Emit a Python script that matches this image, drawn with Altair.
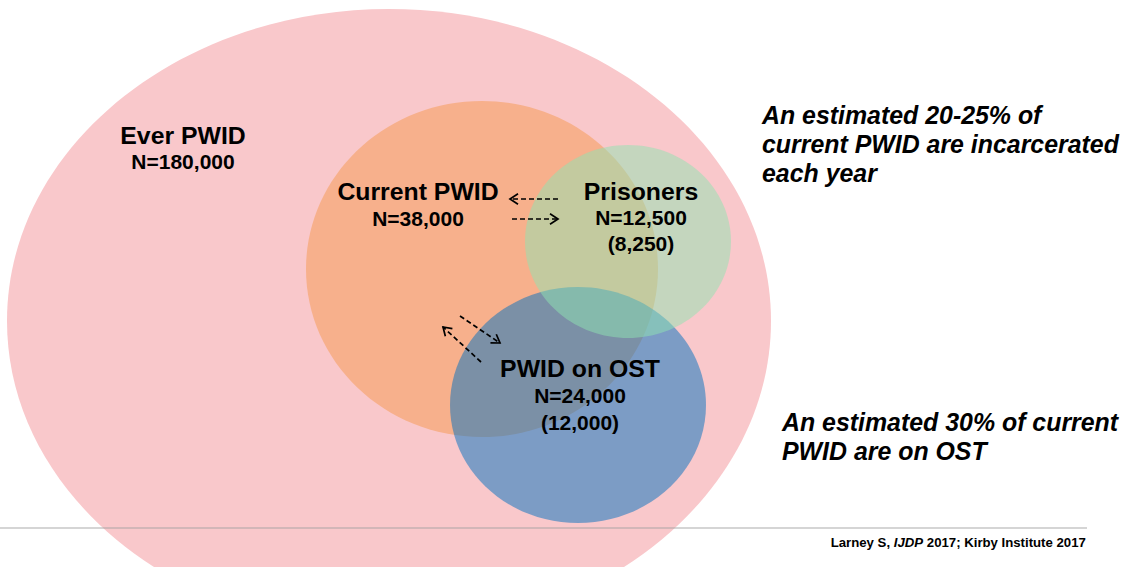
import altair as alt
import numpy as np
import pandas as pd

W, H = 1133, 567
FONT = "Liberation Sans"

# ---------------- data ----------------
groups = ["Ever PWID", "Current PWID", "PWID on OST", "Prisoners"]
group_n = [180000, 38000, 24000, 12500]
group_sub = [None, None, 12000, 8250]

notes_1 = ["An estimated 20-25% of", "current PWID are incarcerated", "each year"]
notes_2 = ["An estimated 30% of current", "PWID are on OST"]
footer_parts = ["Larney S,", "IJDP", "2017; Kirby Institute 2017"]

# ---------------- layout (diagram geometry, pixel-like units) ----------------
ell_cx = [389, 482, 578, 628]
ell_cy = [321, 269, 405, 241.5]
ell_rx = [382, 176, 128, 103]
ell_ry = [312, 168, 118, 96.5]
ell_fill = ["#F9C8CB", "#F7B08C", "#0070C0", "#8FE4B1"]
ell_alpha = [1.0, 1.0, 0.5, 0.5]

title_x = [183, 418, 580, 641]
title_y = [137, 193, 370, 193]
line_gap = [26, 27, 27, 26]

arrow_x = [558, 512, 460, 481]
arrow_y = [199, 219, 316, 362]
arrow_x2 = [510, 558, 500, 443]
arrow_y2 = [199, 219, 343, 327]

FOOT_SIZE = 13.2
foot_x = [830.7, 893.8, 926.8]


def ellipse_path(rx, ry):
    q = ry / rx
    k = 0.5523
    return (f"M 1 0 C 1 {k*q:.4f} {k:.4f} {q:.4f} 0 {q:.4f} "
            f"C {-k:.4f} {q:.4f} -1 {k*q:.4f} -1 0 "
            f"C -1 {-k*q:.4f} {-k:.4f} {-q:.4f} 0 {-q:.4f} "
            f"C {k:.4f} {-q:.4f} 1 {-k*q:.4f} 1 0 Z")


ell = pd.DataFrame({
    "name": groups, "cx": ell_cx, "cy": ell_cy,
    "shape": [ellipse_path(a, b) for a, b in zip(ell_rx, ell_ry)],
    "size": [(2 * a) ** 2 for a in ell_rx],
    "fill": ell_fill, "alpha": ell_alpha,
})

xs = alt.Scale(domain=[0, W], nice=False, zero=False)
ys = alt.Scale(domain=[0, H], nice=False, zero=False, reverse=True)

def X(f):
    return alt.X(f, scale=xs, axis=None)

def Y(f):
    return alt.Y(f, scale=ys, axis=None)

ellipses = alt.Chart(ell).mark_point(filled=True, opacity=1, strokeWidth=0).encode(
    x=X("cx:Q"), y=Y("cy:Q"),
    shape=alt.Shape("shape:N", scale=None),
    size=alt.Size("size:Q", scale=None),
    fill=alt.Fill("fill:N", scale=None),
    fillOpacity=alt.FillOpacity("alpha:Q", scale=None),
    order=alt.Order("order:Q"),
).transform_window(order="row_number()")

# labels
rows = []
for i, g in enumerate(groups):
    rows.append({"x": title_x[i], "y": title_y[i], "t": g, "kind": "title"})
    rows.append({"x": title_x[i], "y": title_y[i] + line_gap[i],
                 "t": f"N={group_n[i]:,}", "kind": "n"})
    if group_sub[i] is not None:
        rows.append({"x": title_x[i], "y": title_y[i] + 2 * line_gap[i],
                     "t": f"({group_sub[i]:,})", "kind": "n"})
lab = pd.DataFrame(rows)

titles = alt.Chart(lab[lab.kind == "title"]).mark_text(
    font=FONT, fontSize=24.8, fontWeight="bold", color="black",
    align="center", baseline="middle").encode(x=X("x:Q"), y=Y("y:Q"), text="t:N")
nlabels = alt.Chart(lab[lab.kind == "n"]).mark_text(
    font=FONT, fontSize=21, fontWeight="bold", color="black",
    align="center", baseline="middle").encode(x=X("x:Q"), y=Y("y:Q"), text="t:N")

notes = pd.DataFrame({
    "t": notes_1 + notes_2,
    "x": [762] * len(notes_1) + [782] * len(notes_2),
    "y": [117, 146, 175, 424, 453],
})
notes_chart = alt.Chart(notes).mark_text(
    font=FONT, fontSize=24.9, fontWeight="bold", fontStyle="italic", color="black",
    align="left", baseline="middle").encode(x=X("x:Q"), y=Y("y:Q"), text="t:N")

foot = pd.DataFrame({"t": footer_parts, "x": foot_x, "y": [543] * 3,
                     "it": ["normal", "italic", "normal"]})
foot_n = alt.Chart(foot[foot.it == "normal"]).mark_text(
    font=FONT, fontSize=FOOT_SIZE, fontWeight="bold", color="black",
    align="left", baseline="middle").encode(x=X("x:Q"), y=Y("y:Q"), text="t:N")
foot_i = alt.Chart(foot[foot.it == "italic"]).mark_text(
    font=FONT, fontSize=FOOT_SIZE, fontWeight="bold", fontStyle="italic", color="black",
    align="left", baseline="middle").encode(x=X("x:Q"), y=Y("y:Q"), text="t:N")

rule_df = pd.DataFrame({"x": [0], "x2": [1087], "y": [528]})
hline = alt.Chart(rule_df).mark_rule(stroke="#A0A0A0", strokeWidth=1.5, opacity=0.6).encode(
    x=X("x:Q"), x2="x2:Q", y=Y("y:Q"))

arr = pd.DataFrame({"x": arrow_x, "y": arrow_y, "x2": arrow_x2, "y2": arrow_y2})
arr["ang"] = np.mod(np.degrees(np.arctan2(arr.y2 - arr.y, arr.x2 - arr.x)), 360)
arrow_lines = alt.Chart(arr).mark_rule(stroke="black", strokeWidth=1.7,
                                       strokeDash=[5, 3]).encode(
    x=X("x:Q"), y=Y("y:Q"), x2="x2:Q", y2="y2:Q")
arrow_heads = alt.Chart(arr).mark_point(
    shape="M -1 -0.65 L 0 0 L -1 0.65", size=256, filled=False,
    stroke="black", strokeWidth=1.7, opacity=1).encode(
    x=X("x2:Q"), y=Y("y2:Q"), angle=alt.Angle("ang:Q", scale=None))

chart = alt.layer(
    ellipses, hline, arrow_lines, arrow_heads, titles, nlabels, notes_chart, foot_n, foot_i
).properties(
    width=W, height=H, padding=0, autosize=alt.AutoSizeParams(type="none"),
    background="white",
).configure_view(strokeWidth=0)

chart.save("out.html", embed_options={"renderer": "svg", "actions": False})
